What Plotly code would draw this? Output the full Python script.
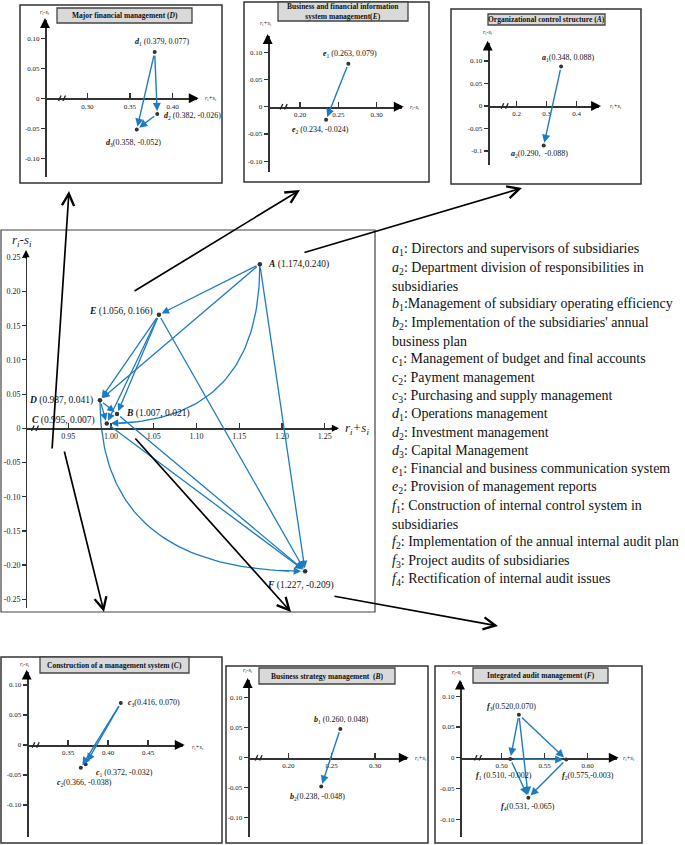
import numpy as np
import plotly.graph_objects as go

W, H = 685, 845
FONT = "'Liberation Serif', 'Times New Roman', Times, serif"
BLUE = "#1f7bc0"
AX = "#333333"

# ---------------- data ----------------
main_names = ["A", "B", "C", "D", "E", "F"]
main_x = [1.174, 1.007, 0.995, 0.987, 1.056, 1.227]
main_y = [0.240, 0.021, 0.007, 0.041, 0.166, -0.209]
main_text = ["<b><i>A</i></b> (1.174,0.240)", "<b><i>B</i></b> (1.007, 0.021)",
             "<b><i>C</i></b> (0.995, 0.007)", "<b><i>D</i></b> (0.987, 0.041)",
             "<b><i>E</i></b> (1.056, 0.166)", "<b><i>F</i></b> (1.227, -0.209)"]
main_straight = [("A", "E"), ("A", "D"), ("A", "F"), ("E", "D"), ("E", "C"), ("E", "B"),
                 ("E", "F"), ("D", "B"), ("D", "C"), ("B", "F"), ("C", "F")]
main_curved = [("A", "C"), ("D", "F")]
main_xticks = [0.95, 1.00, 1.05, 1.10, 1.15, 1.20, 1.25]
main_xticktext = ["0.95", "1.00", "1.05", "1.10", "1.15", "1.20", "1.25"]
main_yticks = [0.25, 0.20, 0.15, 0.10, 0.05, 0, -0.05, -0.10, -0.15, -0.20, -0.25]
main_yticktext = ["0.25", "0.20", "0.15", "0.10", "0.05", "0", "-0.05", "-0.10", "-0.15", "-0.20", "-0.25"]

d_names = ["d1", "d2", "d3"]
d_x = [0.379, 0.382, 0.358]
d_y = [0.077, -0.026, -0.052]
d_text = ["<b><i>d</i></b><sub>1</sub> (0.379, 0.077)", "<b><i>d</i></b><sub>2</sub> (0.382, -0.026)",
          "<b><i>d</i></b><sub>3</sub>(0.358, -0.052)"]
d_edges = [("d1", "d3"), ("d1", "d2"), ("d2", "d3")]
d_xticks = [0.30, 0.35, 0.40]
d_xticktext = ["0.30", "0.35", "0.40"]

e_names = ["e1", "e2"]
e_x = [0.263, 0.234]
e_y = [0.079, -0.024]
e_text = ["<b><i>e</i></b><sub>1</sub> (0.263, 0.079)", "<b><i>e</i></b><sub>2</sub> (0.234, -0.024)"]
e_edges = [("e1", "e2")]
e_xticks = [0.20, 0.25, 0.30]
e_xticktext = ["0.20", "0.25", "0.30"]

a_names = ["a1", "a2"]
a_x = [0.348, 0.290]
a_y = [0.088, -0.088]
a_text = ["<b><i>a</i></b><sub>1</sub>(0.348, 0.088)", "<b><i>a</i></b><sub>2</sub>(0.290,  -0.088)"]
a_edges = [("a1", "a2")]
a_xticks = [0.2, 0.3, 0.4]
a_xticktext = ["0.2", "0.3", "0.4"]

c_names = ["c3", "c1", "c2"]
c_x = [0.416, 0.372, 0.366]
c_y = [0.070, -0.032, -0.038]
c_text = ["<b><i>c</i></b><sub>3</sub>(0.416, 0.070)", "<b><i>c</i></b><sub>1</sub> (0.372, -0.032)",
          "<b><i>c</i></b><sub>2</sub>(0.366, -0.038)"]
c_edges = [("c3", "c2"), ("c3", "c1"), ("c1", "c2")]
c_xticks = [0.35, 0.40, 0.45]
c_xticktext = ["0.35", "0.40", "0.45"]

b_names = ["b1", "b2"]
b_x = [0.260, 0.238]
b_y = [0.048, -0.048]
b_text = ["<b><i>b</i></b><sub>1</sub> (0.260, 0.048)", "<b><i>b</i></b><sub>2</sub>(0.238, -0.048)"]
b_edges = [("b1", "b2")]
b_xticks = [0.20, 0.25, 0.30]
b_xticktext = ["0.20", "0.25", "0.30"]

f_names = ["f3", "f1", "f2", "f4"]
f_x = [0.520, 0.510, 0.575, 0.531]
f_y = [0.070, -0.002, -0.003, -0.065]
f_text = ["<b><i>f</i></b><sub>3</sub>(0.520,0.070)", "<b><i>f</i></b><sub>1</sub> (0.510, -0.002)",
          "<b><i>f</i></b><sub>2</sub>(0.575,-0.003)", "<b><i>f</i></b><sub>4</sub>(0.531, -0.065)"]
f_edges = [("f3", "f1"), ("f3", "f4"), ("f3", "f2"), ("f1", "f2"), ("f1", "f4"), ("f2", "f4")]
f_xticks = [0.50, 0.55, 0.60]
f_xticktext = ["0.50", "0.55", "0.60"]

sub_yticks = [0.10, 0.05, 0, -0.05, -0.10]
sub_yticktext = ["0.10", "0.05", "0", "-0.05", "-0.10"]
a_yticktext = ["0.10", "0.05", "0", "-0.05", "-0.1"]

legend_lines = [
    "<i>a</i><sub>1</sub>: Directors and supervisors of subsidiaries",
    "<i>a</i><sub>2</sub>: Department division of responsibilities in",
    "subsidiaries",
    "<i>b</i><sub>1</sub>:Management of subsidiary operating efficiency",
    "<i>b</i><sub>2</sub>: Implementation of the subsidiaries' annual",
    "business plan",
    "<i>c</i><sub>1</sub>: Management of budget and final accounts",
    "<i>c</i><sub>2</sub>: Payment management",
    "<i>c</i><sub>3</sub>: Purchasing and supply management",
    "<i>d</i><sub>1</sub>: Operations management",
    "<i>d</i><sub>2</sub>: Investment management",
    "<i>d</i><sub>3</sub>: Capital Management",
    "<i>e</i><sub>1</sub>: Financial and business communication system",
    "<i>e</i><sub>2</sub>: Provision of management reports",
    "<i>f</i><sub>1</sub>: Construction of internal control system in",
    "subsidiaries",
    "<i>f</i><sub>2</sub>: Implementation of the annual internal audit plan",
    "<i>f</i><sub>3</sub>: Project audits of subsidiaries",
    "<i>f</i><sub>4</sub>: Rectification of internal audit issues",
]

# ---------------- helpers ----------------
def PX(p):
    return p / W


def PY(p):
    return 1 - p / H


fig = go.Figure()
layout_axes = {}
annotations = []
shapes = []

RS_M = "<i>r<sub>i</sub>-s<sub>i</sub></i>"
RS_P = "<i>r<sub>i</sub>+s<sub>i</sub></i>"


def pline(x0, y0, x1, y1, color, width):
    shapes.append(dict(type="line", xref="paper", yref="paper", x0=PX(x0), y0=PY(y0),
                       x1=PX(x1), y1=PY(y1), line=dict(color=color, width=width)))


def add_break(xc, yc, size):
    for off in (-2.2, 2.2):
        pline(xc + off - size * 0.45, yc + size, xc + off + size * 0.45, yc - size, "#222", 1.3)


def setup_panel(k, geo, xticks, xtt, yticks, ytt, tick_size, lw, brk):
    xl, xr, xrv, xrp, sx, yt, yb, y0, sy = geo
    xmin = xrv + (xl - xrp) / sx
    xmax = xrv + (xr - xrp) / sx
    ymax = (y0 - yt) / sy
    ymin = (y0 - yb) / sy
    xa = "xaxis" if k == 1 else f"xaxis{k}"
    ya = "yaxis" if k == 1 else f"yaxis{k}"
    tf = dict(family=FONT, size=tick_size, color="#222")
    layout_axes[xa] = dict(domain=[PX(xl), PX(xr)], range=[xmin, xmax], anchor="free",
                           position=PY(y0), showgrid=False, zeroline=False, showline=True,
                           linecolor=AX, linewidth=lw, ticks="inside", ticklen=5, tickwidth=1.2,
                           tickcolor=AX, tickvals=xticks, ticktext=xtt, tickfont=tf,
                           fixedrange=True)
    layout_axes[ya] = dict(domain=[PY(yb), PY(yt)], range=[ymin, ymax], anchor="free",
                           position=PX(xl), showgrid=False, zeroline=False, showline=True,
                           linecolor=AX, linewidth=lw, ticks="outside", ticklen=4, tickwidth=1.2,
                           tickcolor=AX, tickvals=yticks, ticktext=ytt, tickfont=tf,
                           fixedrange=True)
    annotations.append(dict(x=PX(xl), y=PY(yt - 2), xref="paper", yref="paper", ax=0, ay=10,
                            showarrow=True, arrowhead=2, arrowsize=1.1, arrowwidth=lw,
                            arrowcolor="black", text=""))
    annotations.append(dict(x=PX(xr + 2), y=PY(y0), xref="paper", yref="paper", ax=-10, ay=0,
                            showarrow=True, arrowhead=2, arrowsize=1.1, arrowwidth=lw,
                            arrowcolor="black", text=""))
    add_break(xl + brk, y0, 2.8)


def refs(k):
    return ("x", "y") if k == 1 else (f"x{k}", f"y{k}")


def add_points(k, names, xs, ys, texts, place, size, msize):
    xr_, yr_ = refs(k)
    fig.add_trace(go.Scatter(x=xs, y=ys, mode="markers", xaxis=xr_, yaxis=yr_,
                             marker=dict(size=msize, color="#333"), hoverinfo="skip"))
    for xv, yv, t, (anc, dx, dy) in zip(xs, ys, texts, place):
        annotations.append(dict(x=xv, y=yv, xref=xr_, yref=yr_, text=t, showarrow=False,
                                xanchor=anc, yanchor="middle", xshift=dx, yshift=dy,
                                font=dict(family=FONT, size=size, color="#111")))


def add_edges(k, names, xs, ys, edges, width=1.3, standoff=3):
    xr_, yr_ = refs(k)
    pos = {n: (x, y) for n, x, y in zip(names, xs, ys)}
    for s, t in edges:
        (x0, y0), (x1, y1) = pos[s], pos[t]
        annotations.append(dict(x=x1, y=y1, ax=x0, ay=y0, xref=xr_, yref=yr_, axref=xr_, ayref=yr_,
                                text="", showarrow=True, arrowhead=2, arrowsize=1.15,
                                arrowwidth=width, arrowcolor=BLUE, standoff=standoff,
                                startstandoff=2))


def add_curves(k, names, xs, ys, edges):
    xr_, yr_ = refs(k)
    pos = {n: (x, y) for n, x, y in zip(names, xs, ys)}
    for s, t in edges:
        p0, p2 = np.array(pos[s]), np.array(pos[t])
        p1 = np.array([p0[0], p2[1]])
        tt = np.linspace(0, 0.96, 60)
        pts = ((1 - tt) ** 2)[:, None] * p0 + (2 * (1 - tt) * tt)[:, None] * p1 + (tt ** 2)[:, None] * p2
        fig.add_trace(go.Scatter(x=pts[:, 0], y=pts[:, 1], mode="lines", xaxis=xr_, yaxis=yr_,
                                 line=dict(color=BLUE, width=1.3), hoverinfo="skip"))
        tq = 0.93
        q = (1 - tq) ** 2 * p0 + 2 * (1 - tq) * tq * p1 + tq ** 2 * p2
        annotations.append(dict(x=p2[0], y=p2[1], ax=q[0], ay=q[1], xref=xr_, yref=yr_,
                                axref=xr_, ayref=yr_, text="", showarrow=True, arrowhead=2,
                                arrowsize=1.15, arrowwidth=1.3, arrowcolor=BLUE, standoff=4))


def axis_label(x, y, text, size, anchor="center"):
    annotations.append(dict(x=PX(x), y=PY(y), xref="paper", yref="paper", text=text,
                            showarrow=False, xanchor=anchor, yanchor="middle",
                            font=dict(family=FONT, size=size, color="#222")))


def box(x0, y0, x1, y1, color="#333", width=1.3, fill=None):
    shapes.append(dict(type="rect", xref="paper", yref="paper", x0=PX(x0), x1=PX(x1),
                       y0=PY(y1), y1=PY(y0), line=dict(color=color, width=width),
                       fillcolor=fill if fill else "rgba(0,0,0,0)", layer="below"))


def title_box(x0, y0, x1, y1, text, size=7.5):
    box(x0, y0, x1, y1, color="#444", width=1.3, fill="#d9d9d9")
    annotations.append(dict(x=PX((x0 + x1) / 2), y=PY((y0 + y1) / 2), xref="paper", yref="paper",
                            text=text, showarrow=False, xanchor="center", yanchor="middle",
                            font=dict(family=FONT, size=size, color="#111")))


# ---------------- main chart ----------------
box(1, 230, 375, 612, color="#444", width=1.2)
setup_panel(1, (26, 337, 0.95, 68.3, 855, 252, 608, 428.3, 684),
            main_xticks, main_xticktext, main_yticks, main_yticktext, 8, 1.3, 9)
add_edges(1, main_names, main_x, main_y, main_straight)
add_curves(1, main_names, main_x, main_y, main_curved)
add_points(1, main_names, main_x, main_y, main_text,
           [("left", 6, 0), ("left", 7, 0), ("right", -10, 3), ("right", -5, 0),
            ("right", -4, 3), ("center", -5, -14)], 9.5, 4.5)
axis_label(22, 240, RS_M, 13)
axis_label(343, 428, RS_P, 13, "left")

# ---------------- D panel ----------------
box(20, 5, 222, 183, width=1.5)
title_box(57, 8, 192, 23, "<b>Major financial management (<i>D</i>)</b>")
setup_panel(2, (45, 196.7, 0.30, 87.3, 853, 20, 177, 98.3, 600),
            d_xticks, d_xticktext, sub_yticks, sub_yticktext, 7, 1.8, 17)
add_edges(2, d_names, d_x, d_y, d_edges, 1.4, 3)
add_points(2, d_names, d_x, d_y, d_text,
           [("center", 7, 10), ("left", 5, -2), ("center", -3, -13)], 8, 4)
axis_label(45, 13, RS_M, 6)
axis_label(203, 99, RS_P, 6, "left")

# ---------------- E panel ----------------
box(244, 2, 429, 182, width=1.5)
title_box(278, 2, 408, 21, "<b>Business and financial information<br>system management(<i>E</i>)</b>")
setup_panel(3, (267.7, 401.7, 0.20, 300, 767, 36, 171.7, 106.7, 544),
            e_xticks, e_xticktext, sub_yticks, sub_yticktext, 7, 1.8, 16)
add_edges(3, e_names, e_x, e_y, e_edges, 1.4, 3)
add_points(3, e_names, e_x, e_y, e_text, [("center", 2, 10), ("center", -6, -10)], 8, 4)
axis_label(266, 24, RS_P, 6)
axis_label(408, 107, RS_M, 6, "left")

# ---------------- A panel ----------------
box(451, 9, 641, 184, width=1.5)
title_box(488, 14, 605, 25, "<b>Organizational control structure (<i>A</i>)</b>")
setup_panel(4, (487.7, 599, 0.2, 516.7, 300, 42.7, 165, 106, 450),
            a_xticks, a_xticktext, sub_yticks, a_yticktext, 7, 1.8, 17)
add_edges(4, a_names, a_x, a_y, a_edges, 1.4, 3)
add_points(4, a_names, a_x, a_y, a_text, [("center", 7, 8), ("center", -4, -8)], 8, 4)
axis_label(488, 33, RS_M, 6)
axis_label(608, 106, RS_P, 6, "left")

# ---------------- C panel ----------------
box(1, 657, 222, 843, width=1.5)
title_box(40, 657, 189, 673, "<b>Construction of a management system (<i>C</i>)</b>")
setup_panel(5, (26.7, 182.7, 0.35, 68, 800, 671.7, 836.7, 745, 600),
            c_xticks, c_xticktext, sub_yticks, sub_yticktext, 7, 1.8, 9)
add_edges(5, c_names, c_x, c_y, c_edges, 1.4, 3)
add_points(5, c_names, c_x, c_y, c_text,
           [("left", 5, 0), ("left", 8, -9), ("center", 4, -15)], 8, 4)
axis_label(25, 664, RS_M, 6)
axis_label(190, 747, RS_P, 6, "left")

# ---------------- B panel ----------------
box(226, 666, 428, 843, width=1.5)
title_box(259, 668, 395, 684, "<b>Business strategy management  (<i>B</i>)</b>")
setup_panel(6, (247.7, 406.7, 0.20, 288.3, 867, 680, 836.7, 757.7, 600),
            b_xticks, b_xticktext, sub_yticks, sub_yticktext, 7, 1.8, 11)
add_edges(6, b_names, b_x, b_y, b_edges, 1.4, 3)
add_points(6, b_names, b_x, b_y, b_text, [("center", 1, 9), ("center", -4, -10)], 8, 4)
axis_label(248, 670, RS_M, 6)
axis_label(413, 758, RS_P, 6, "left")

# ---------------- F panel ----------------
box(435, 666, 642, 843, width=1.5)
title_box(473, 668, 608, 683, "<b>Integrated audit management (<i>F</i>)</b>")
setup_panel(7, (460, 616.7, 0.50, 501.7, 860, 681.7, 836.7, 757.7, 615),
            f_xticks, f_xticktext, sub_yticks, sub_yticktext, 7, 1.8, 18)
add_edges(7, f_names, f_x, f_y, f_edges, 1.4, 3)
add_points(7, f_names, f_x, f_y, f_text,
           [("center", -7, 8), ("center", -6, -17), ("left", -6, -16), ("center", 0, -9)], 8, 4)
axis_label(457, 672, RS_M, 6)
axis_label(621, 758, RS_P, 6, "left")

# ---------------- black connector arrows (tail px, head px) ----------------
connectors = [((52, 450), (69, 191)), ((133, 292), (300, 190)), ((303, 253), (522, 188)),
              ((64, 450), (104, 612)), ((134, 437), (291, 612)), ((333, 596), (498, 626))]
for (tx, ty), (hx, hy) in connectors:
    annotations.append(dict(x=PX(hx), y=PY(hy), xref="paper", yref="paper", ax=tx - hx, ay=ty - hy,
                            text="", showarrow=True, arrowhead=5, arrowsize=1.4, arrowwidth=1.7,
                            arrowcolor="black"))

# ---------------- legend text ----------------
for i, line in enumerate(legend_lines):
    annotations.append(dict(x=PX(390), y=PY(250 + i * 18.3), xref="paper", yref="paper", text=line,
                            showarrow=False, xanchor="left", yanchor="middle",
                            font=dict(family=FONT, size=14, color="#111")))

fig.update_layout(width=W, height=H, margin=dict(l=0, r=0, t=0, b=0), showlegend=False,
                  paper_bgcolor="white", plot_bgcolor="white", hovermode=False,
                  annotations=annotations, shapes=shapes, **layout_axes)
fig.write_html("out.html", config={"displayModeBar": False, "staticPlot": True},
               post_script="document.body.style.margin='0';document.body.style.overflow='hidden';")
